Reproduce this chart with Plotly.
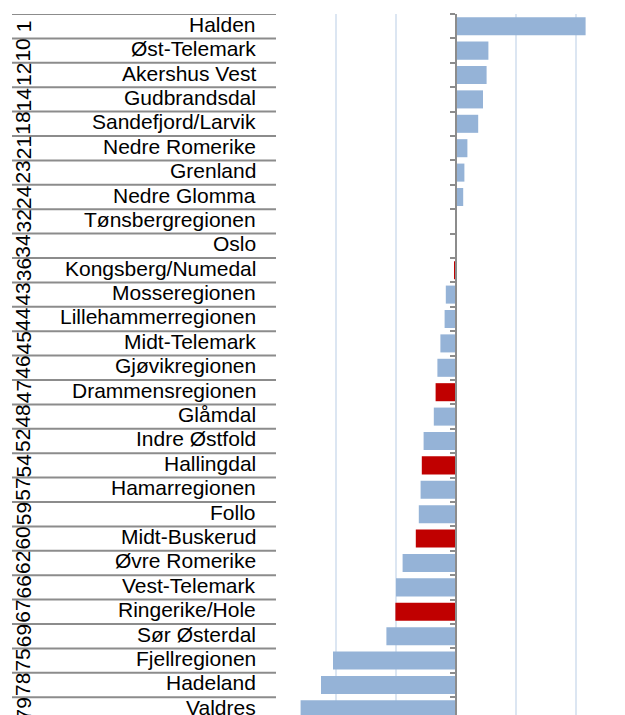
import plotly.graph_objects as go

regions = ["Halden", "Øst-Telemark", "Akershus Vest", "Gudbrandsdal", "Sandefjord/Larvik",
           "Nedre Romerike", "Grenland", "Nedre Glomma", "Tønsbergregionen", "Oslo",
           "Kongsberg/Numedal", "Mosseregionen", "Lillehammerregionen", "Midt-Telemark",
           "Gjøvikregionen", "Drammensregionen", "Glåmdal", "Indre Østfold", "Hallingdal",
           "Hamarregionen", "Follo", "Midt-Buskerud", "Øvre Romerike", "Vest-Telemark",
           "Ringerike/Hole", "Sør Østerdal", "Fjellregionen", "Hadeland", "Valdres"]
ranks = [1, 10, 12, 14, 18, 21, 23, 24, 32, 34, 36, 43, 44, 45, 46, 47, 48, 52, 54,
         57, 59, 60, 62, 66, 67, 69, 75, 78, 79]
values = [2.16, 0.54, 0.51, 0.45, 0.37, 0.19, 0.14, 0.12, 0.005, -0.005, -0.03, -0.17,
          -0.19, -0.26, -0.31, -0.34, -0.37, -0.54, -0.57, -0.59, -0.62, -0.67, -0.89,
          -1.0, -1.01, -1.16, -2.05, -2.25, -2.59]
highlighted = ["Kongsberg/Numedal", "Drammensregionen", "Hallingdal", "Midt-Buskerud",
               "Ringerike/Hole"]

BLUE = "#95B3D7"
RED = "#C00000"
OFF = 8  # page body margin
W, H = 625 - OFF, 715 - OFF
ML, MT = 276 - OFF, 14 - OFF
PW = W - ML
n = len(regions)
xmin, xmax = -3, -3 + PW / 60.0
ypos = list(range(n))
colors = [RED if r in highlighted else BLUE for r in regions]
FONT = dict(family="Liberation Sans", size=21, color="#000")

fig = go.Figure(go.Bar(
    x=values, y=ypos, orientation="h", marker_color=colors, marker_line_width=0,
    width=0.74, hoverinfo="skip"))

def px_to_paper(px):
    return (px - ML) / PW

annotations = []
for i, (r, k) in enumerate(zip(regions, ranks)):
    annotations.append(dict(x=px_to_paper(250), xref="paper", y=i, yref="y", text=r,
                            showarrow=False, xanchor="right", yanchor="middle", font=FONT,
                            yshift=2))
    annotations.append(dict(x=px_to_paper(15), xref="paper", y=i, yref="y", text=str(k),
                            showarrow=False, xanchor="center", yanchor="middle",
                            textangle=-90, font=FONT))

shapes = []
for i in range(n):
    shapes.append(dict(type="line", xref="paper", yref="y", x0=px_to_paper(4), x1=0,
                       y0=i - 0.5, y1=i - 0.5, line=dict(color="#8C8C8C", width=2),
                       layer="above"))

fig.update_layout(
    width=W, height=H, margin=dict(l=ML, r=0, t=MT, b=0),
    paper_bgcolor="white", plot_bgcolor="white", showlegend=False,
    xaxis=dict(range=[xmin, xmax], dtick=1, tick0=0, showticklabels=False, showgrid=True,
               gridcolor="#DCE6F2", gridwidth=1.5, zeroline=False, showline=False),
    yaxis=dict(range=[28.23, -0.5], anchor="free", position=(0 - xmin) / (xmax - xmin),
               showgrid=False, zeroline=False, showline=True, linecolor="#8C8C8C",
               linewidth=2, ticks="outside", ticklen=5, tickcolor="#8C8C8C", tickwidth=2,
               tickvals=[i - 0.5 for i in range(n)], showticklabels=False),
    annotations=annotations, shapes=shapes,
)

fig.write_html("out.html")
